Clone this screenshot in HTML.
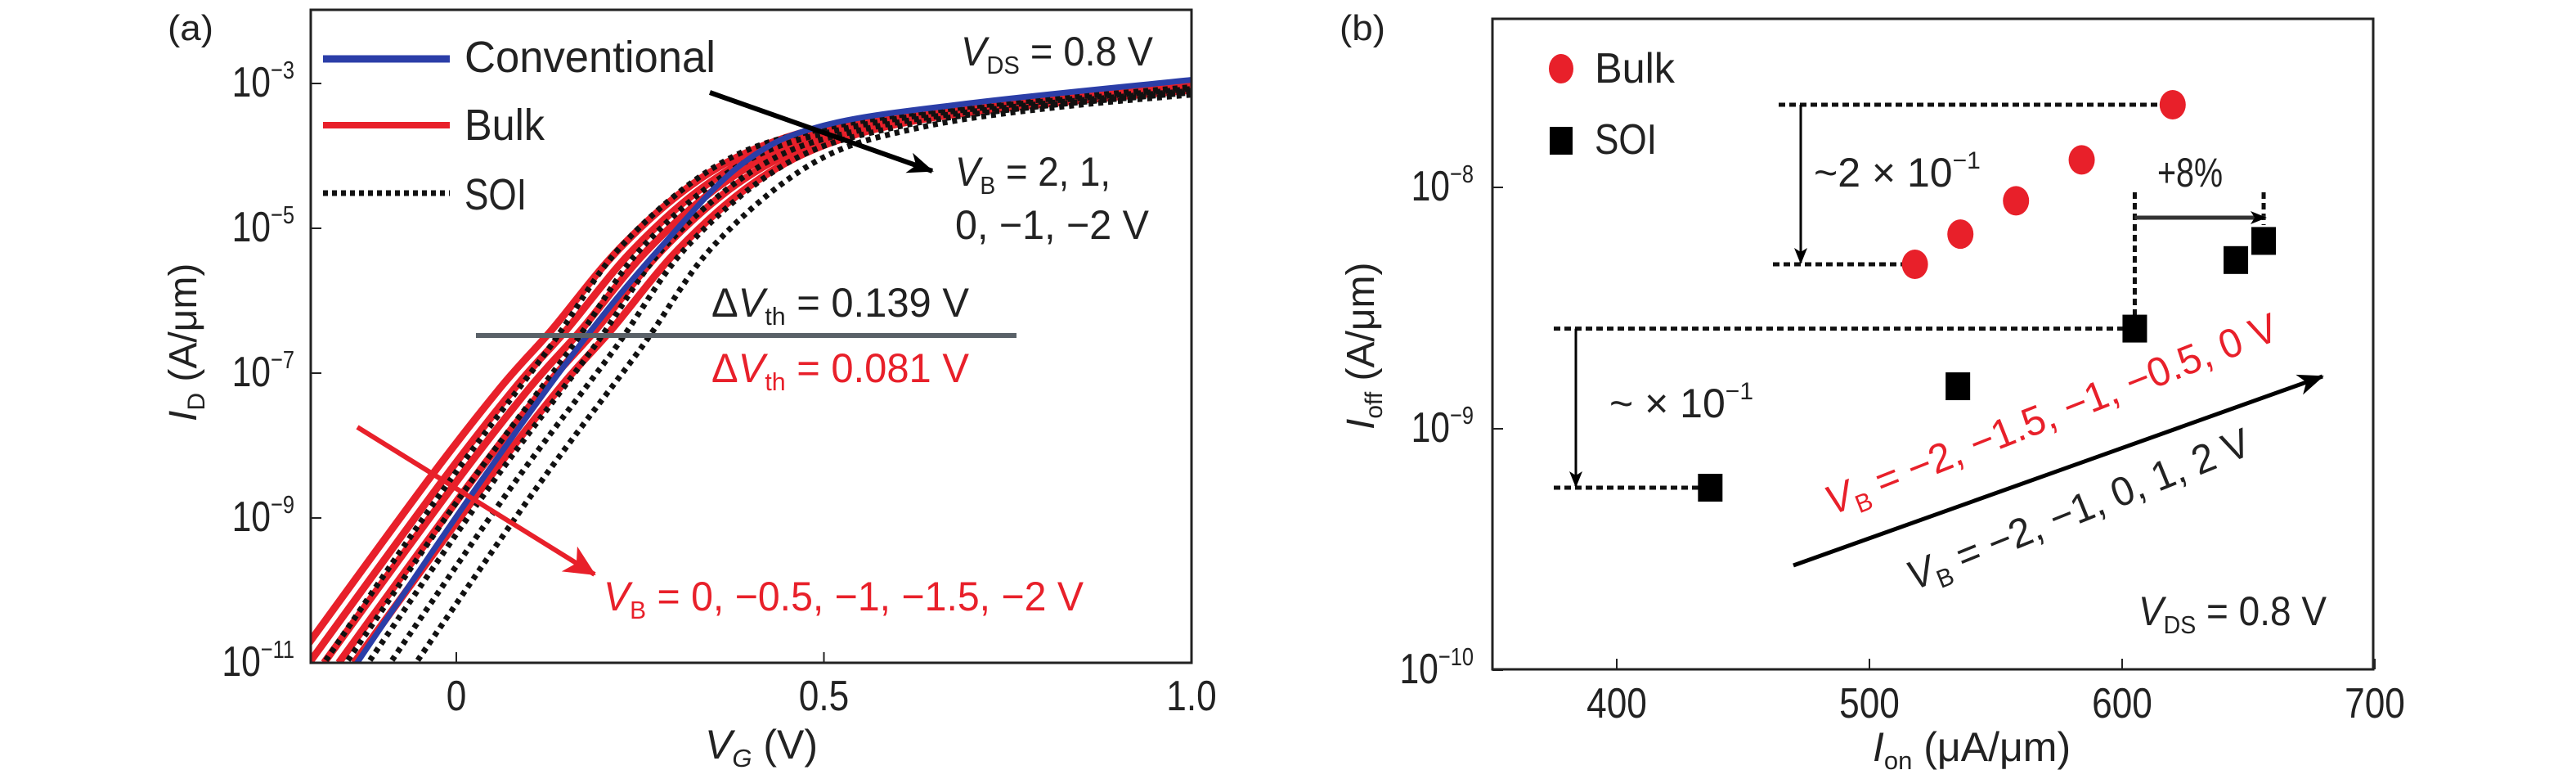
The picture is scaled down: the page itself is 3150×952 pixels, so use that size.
<!DOCTYPE html>
<html><head><meta charset="utf-8"><style>
html,body{margin:0;padding:0;background:#fff;}
svg{display:block;}
text{font-family:"Liberation Sans",sans-serif;}
</style></head><body>
<svg id="fig" width="3150" height="952" viewBox="0 0 3150 952" xmlns="http://www.w3.org/2000/svg">
<defs>
<marker id="ahBig" markerWidth="34" markerHeight="30" refX="30" refY="15" orient="auto" markerUnits="userSpaceOnUse"><path d="M0,2 L32,15 L0,28 L9,15 Z" fill="#000"/></marker>
<marker id="ahR" markerWidth="40" markerHeight="36" refX="36" refY="18" orient="auto" markerUnits="userSpaceOnUse"><path d="M0,0 L38,18 L0,36 L10,18 Z" fill="#e8202a"/></marker>
<marker id="ahS" markerWidth="20" markerHeight="20" refX="18" refY="10" orient="auto" markerUnits="userSpaceOnUse"><path d="M0,2 L20,10 L0,18 L5,10 Z" fill="#000"/></marker>
</defs>
<g id="pa"></g>
<g id="pb"></g>
</svg>
<script>
// ---------- Panel (a) data ----------
const aBlueVG = [-0.155, 0.024, 0.172, 0.28, 0.39, 0.5, 0.7, 1.0];
const aBlueLogI = [-11.3, -8.63, -6.56, -5.24, -4.1, -3.58, -3.27, -2.95];
const aBulkVG = [-0.22, -0.04, 0.06, 0.13, 0.22, 0.32, 0.42, 0.55, 0.75, 1.0];
const aBulkLogI = [-11.0, -8.5, -7.2, -6.4, -5.3, -4.4, -3.85, -3.5, -3.25, -3.02];
const aBulkShift = [0, 0.02, 0.04, 0.06, 0.081];
const aSoiVG = [-0.2, -0.017, 0.125, 0.225, 0.36, 0.5, 0.7, 1.0];
const aSoiLogI = [-11.3, -8.6, -6.67, -5.24, -4.1, -3.62, -3.32, -3.05];
const aSoiShift = [0, 0.03, 0.06, 0.09, 0.125];
const aXTicks = [0, 0.5, 1.0];
const aXTickLabels = ["0", "0.5", "1.0"];
const aYTicks = [-3, -5, -7, -9, -11];
const aYTickLabels = ["\u22123", "\u22125", "\u22127", "\u22129", "\u221211"];
// ---------- Panel (b) data ----------
const bBulkIon = [518, 536, 558, 584, 620];
const bBulkIoff = [4.8e-9, 6.4e-9, 8.8e-9, 1.3e-8, 2.2e-8];
const bSoiIon = [437, 535, 605, 645, 656];
const bSoiIoff = [5.7e-10, 1.5e-9, 2.6e-9, 5.0e-9, 6.0e-9];
const bXTicks = [400, 500, 600, 700];
const bXTickLabels = ["400", "500", "600", "700"];
const bYTicks = [-8, -9, -10];
const bYTickLabels = ["\u22128", "\u22129", "\u221210"];

const NS = "http://www.w3.org/2000/svg";
function mk(parent, tag, attrs, txt) {
  const e = document.createElementNS(NS, tag);
  for (const k in attrs) e.setAttribute(k, attrs[k]);
  if (txt !== undefined) e.textContent = txt;
  parent.appendChild(e);
  return e;
}
const ax = v => 558 + (v) * 899;
const ay = l => 810 - (l + 11) * 88.5;
const bx = v => 1977 + (v - 400) * 3.09;
const by = v => 229 + (-8 - Math.log10(v)) * 295;
const byl = l => 229 + (-8 - l) * 295;

const pa = document.getElementById("pa");
const pb = document.getElementById("pb");

const clipA = mk(document.querySelector("defs"), "clipPath", {id: "clipA"});
mk(clipA, "rect", {x: 381, y: 13, width: 1075, height: 796});

function pathFrom(xs, ys, shift) {
  const P = xs.map((x, i) => [ax(x + shift), ay(ys[i])]);
  let d = "M" + P[0][0].toFixed(1) + "," + P[0][1].toFixed(1);
  for (let i = 0; i < P.length - 1; i++) {
    const p0 = P[Math.max(0, i - 1)], p1 = P[i], p2 = P[i + 1], p3 = P[Math.min(P.length - 1, i + 2)];
    const c1 = [p1[0] + (p2[0] - p0[0]) / 6, p1[1] + (p2[1] - p0[1]) / 6];
    const c2 = [p2[0] - (p3[0] - p1[0]) / 6, p2[1] - (p3[1] - p1[1]) / 6];
    d += " C" + c1[0].toFixed(1) + "," + c1[1].toFixed(1) + " " + c2[0].toFixed(1) + "," + c2[1].toFixed(1) + " " + p2[0].toFixed(1) + "," + p2[1].toFixed(1);
  }
  return d;
}
const curves = mk(pa, "g", {"clip-path": "url(#clipA)"});


aBulkShift.forEach((s, i) => {
  const p = mk(curves, "path", {d: pathFrom(aBulkVG, aBulkLogI, s), fill: "none", stroke: "#e8202a", "stroke-width": 9, "stroke-linejoin": "round"});
  
  
});
aSoiShift.forEach((s, i) => {
  const p = mk(curves, "path", {d: pathFrom(aSoiVG, aSoiLogI, s), fill: "none", stroke: "#111", "stroke-width": 7, "stroke-dasharray": "6 6"});
  
  
});
const bl = mk(curves, "path", {d: pathFrom(aBlueVG, aBlueLogI, 0), fill: "none", stroke: "#2b3ea8", "stroke-width": 7});



const fa = mk(pa, "rect", {x: 380, y: 12, width: 1077, height: 798, fill: "none", stroke: "#222", "stroke-width": 3});


aXTicks.forEach((v, i) => {
  mk(pa, "line", {x1: ax(v), x2: ax(v), y1: 810, y2: 797, stroke: "#222", "stroke-width": 2});
  const t = mk(pa, "text", {x: ax(v), y: 868, "font-size": 52, "text-anchor": "middle", fill: "#222", transform: "translate(" + ax(v) + ",0) scale(0.85,1) translate(" + (-ax(v)) + ",0)"}, aXTickLabels[i]);
  
  
});
aYTicks.forEach((v, i) => {
  mk(pa, "line", {x1: 380, x2: 393, y1: ay(v), y2: ay(v), stroke: "#222", "stroke-width": 2});
  const t = mk(pa, "text", {x: 360, y: ay(v) + 16, "font-size": 52, fill: "#222", "text-anchor": "end", transform: "translate(360,0) scale(0.82,1) translate(-360,0)"});
  
  
  mk(t, "tspan", {}, "10");
  mk(t, "tspan", {dy: -22, "font-size": 31}, aYTickLabels[i]);
});
mk(pa, "line", {x1: 582, x2: 1243, y1: 410, y2: 410, stroke: "#5a6168", "stroke-width": 6});
mk(pa, "line", {x1: 395, x2: 550, y1: 72, y2: 72, stroke: "#2b3ea8", "stroke-width": 9});
mk(pa, "line", {x1: 395, x2: 550, y1: 153, y2: 153, stroke: "#e8202a", "stroke-width": 8});
mk(pa, "line", {x1: 395, x2: 550, y1: 236, y2: 236, stroke: "#111", "stroke-width": 7, "stroke-dasharray": "6 5"});
function txt(g, x, y, s, size, len, fill, name, anchor) {
  const t = mk(g, "text", {x: x, y: y, "font-size": size, fill: fill || "#222"}, s);
  if (len) { t.setAttribute("textLength", len); t.setAttribute("lengthAdjust", "spacingAndGlyphs"); }
  if (anchor) t.setAttribute("text-anchor", anchor);
  
  
  return t;
}
txt(pa, 568, 88, "Conventional", 54, 307, "#222", "legend-conventional");
txt(pa, 568, 171, "Bulk", 54, 98, "#222", "legend-bulk");
txt(pa, 568, 256, "SOI", 54, 76, "#222", "legend-soi");
txt(pa, 205, 49, "(a)", 44, 56, "#222", "panel-label-a");
function vsub(g, x, y, sub, rest, size, fill, name, len) {
  const t = mk(g, "text", {x: x, y: y, "font-size": size, fill: fill});
  if (len) { t.setAttribute("textLength", len); t.setAttribute("lengthAdjust", "spacingAndGlyphs"); }
  
  
  mk(t, "tspan", {"font-style": "italic"}, "V");
  mk(t, "tspan", {dy: 10, "font-size": size * 0.62}, sub);
  mk(t, "tspan", {dy: -10}, rest);
  return t;
}
vsub(pa, 1175, 80, "DS", " = 0.8 V", 50, "#222", "vds-annotation-a", 235);
vsub(pa, 1168, 227, "B", " = 2, 1,", 50, "#222", "vb-annotation-soi-1", 190);
txt(pa, 1168, 292, "0, \u22121, \u22122 V", 50, 237, "#222", "vb-annotation-soi-2");
const d1 = mk(pa, "text", {x: 870, y: 387, "font-size": 50, fill: "#222", textLength: 315, lengthAdjust: "spacingAndGlyphs"});
 
mk(d1, "tspan", {}, "\u0394"); mk(d1, "tspan", {"font-style": "italic"}, "V"); mk(d1, "tspan", {dy: 10, "font-size": 31}, "th"); mk(d1, "tspan", {dy: -10}, " = 0.139 V");
const d2 = mk(pa, "text", {x: 870, y: 467, "font-size": 50, fill: "#e8202a", textLength: 315, lengthAdjust: "spacingAndGlyphs"});
 
mk(d2, "tspan", {}, "\u0394"); mk(d2, "tspan", {"font-style": "italic"}, "V"); mk(d2, "tspan", {dy: 10, "font-size": 31}, "th"); mk(d2, "tspan", {dy: -10}, " = 0.081 V");
vsub(pa, 738, 746, "B", " = 0, \u22120.5, \u22121, \u22121.5, \u22122 V", 50, "#e8202a", "vb-annotation-bulk", 587);
mk(pa, "line", {x1: 868, y1: 113, x2: 1140, y2: 209, stroke: "#000", "stroke-width": 6, "marker-end": "url(#ahBig)"});
mk(pa, "line", {x1: 437, y1: 522, x2: 727, y2: 702, stroke: "#e8202a", "stroke-width": 6, "marker-end": "url(#ahR)"});
const xt = mk(pa, "text", {x: 862, y: 927, "font-size": 50, fill: "#222"});
 
mk(xt, "tspan", {"font-style": "italic"}, "V"); mk(xt, "tspan", {dy: 10, "font-size": 31, "font-style": "italic"}, "G"); mk(xt, "tspan", {dy: -10}, " (V)");
const yt = mk(pa, "text", {x: 0, y: 0, "font-size": 48, fill: "#222", transform: "translate(240,515) rotate(-90)"});
 
mk(yt, "tspan", {"font-style": "italic"}, "I"); mk(yt, "tspan", {dy: 10, "font-size": 30}, "D"); mk(yt, "tspan", {dy: -10}, " (A/\u03bcm)");

// ===== Panel b =====
const fb = mk(pb, "rect", {x: 1825, y: 23, width: 1077, height: 795, fill: "none", stroke: "#222", "stroke-width": 3});
 
bXTicks.forEach((v, i) => {
  mk(pb, "line", {x1: bx(v), x2: bx(v), y1: 818, y2: 805, stroke: "#222", "stroke-width": 2});
  const t = mk(pb, "text", {x: bx(v), y: 877, "font-size": 52, "text-anchor": "middle", fill: "#222", transform: "translate(" + bx(v) + ",0) scale(0.85,1) translate(" + (-bx(v)) + ",0)"}, bXTickLabels[i]);
  
  
});
bYTicks.forEach((v, i) => {
  mk(pb, "line", {x1: 1825, x2: 1838, y1: byl(v), y2: byl(v), stroke: "#222", "stroke-width": 2});
  const t = mk(pb, "text", {x: 1802, y: byl(v) + 16, "font-size": 52, fill: "#222", "text-anchor": "end", transform: "translate(1802,0) scale(0.82,1) translate(-1802,0)"});
   
  mk(t, "tspan", {}, "10");
  mk(t, "tspan", {dy: -22, "font-size": 31}, bYTickLabels[i]);
});
txt(pb, 1638, 49, "(b)", 44, 56, "#222", "panel-label-b");
mk(pb, "ellipse", {cx: 1909, cy: 84, rx: 15, ry: 18, fill: "#e8202a"});
txt(pb, 1950, 101, "Bulk", 52, 98, "#222", "legend-bulk-b");
mk(pb, "rect", {x: 1895, y: 155, width: 28, height: 34, fill: "#000"});
txt(pb, 1950, 188, "SOI", 52, 76, "#222", "legend-soi-b");
const dash = {stroke: "#111", "stroke-width": 5, "stroke-dasharray": "8 5"};
function dl(x1, y1, x2, y2) { mk(pb, "line", Object.assign({x1, y1, x2, y2}, dash)); }
dl(2175, by(bBulkIoff[4]), bx(bBulkIon[4]), by(bBulkIoff[4]));
dl(2168, by(bBulkIoff[0]), bx(bBulkIon[0]), by(bBulkIoff[0]));
dl(1900, by(bSoiIoff[2]), bx(bSoiIon[2]), by(bSoiIoff[2]));
dl(1900, by(bSoiIoff[0]), bx(bSoiIon[0]), by(bSoiIoff[0]));
dl(bx(bSoiIon[2]), 235, bx(bSoiIon[2]), by(bSoiIoff[2]));
dl(bx(bSoiIon[4]), 235, bx(bSoiIon[4]), 275);
mk(pb, "line", {x1: 2202, y1: by(bBulkIoff[4]), x2: 2202, y2: by(bBulkIoff[0]) - 2, stroke: "#000", "stroke-width": 3, "marker-end": "url(#ahS)"});
mk(pb, "line", {x1: 1927, y1: by(bSoiIoff[2]), x2: 1927, y2: by(bSoiIoff[0]) - 2, stroke: "#000", "stroke-width": 3, "marker-end": "url(#ahS)"});
mk(pb, "line", {x1: bx(bSoiIon[2]), y1: 266, x2: bx(bSoiIon[4]) + 2, y2: 266, stroke: "#333", "stroke-width": 5, "marker-end": "url(#ahS)"});
bBulkIon.forEach((v, i) => {
  const c = mk(pb, "ellipse", {cx: bx(v), cy: by(bBulkIoff[i]), rx: 16, ry: 18, fill: "#e8202a"});
   
});
bSoiIon.forEach((v, i) => {
  const r = mk(pb, "rect", {x: bx(v) - 15, y: by(bSoiIoff[i]) - 17, width: 30, height: 34, fill: "#000"});
   
});
const a1 = mk(pb, "text", {x: 2218, y: 228, "font-size": 50, fill: "#222"});
 
mk(a1, "tspan", {}, "~2 \u00d7 10"); mk(a1, "tspan", {dy: -22, "font-size": 30}, "\u22121");
const a2 = mk(pb, "text", {x: 1968, y: 510, "font-size": 50, fill: "#222"});
 
mk(a2, "tspan", {}, "~ \u00d7 10"); mk(a2, "tspan", {dy: -22, "font-size": 30}, "\u22121");
txt(pb, 2638, 228, "+8%", 50, 80, "#222", "ion-gain");
mk(pb, "line", {x1: 2193, y1: 691, x2: 2840, y2: 460, stroke: "#000", "stroke-width": 5, "marker-end": "url(#ahBig)"});
const r1 = vsub(pb, 0, 0, "B", " = \u22122, \u22121.5, \u22121, \u22120.5, 0 V", 50, "#e8202a", "vb-sweep-bulk", 590);
r1.setAttribute("transform", "translate(2240,630) rotate(-21.5)");
const r2 = vsub(pb, 0, 0, "B", " = \u22122, \u22121, 0, 1, 2 V", 50, "#222", "vb-sweep-soi", 448);
r2.setAttribute("transform", "translate(2340,722) rotate(-22)");
vsub(pb, 2615, 764, "DS", " = 0.8 V", 50, "#222", "vds-annotation-b", 230);
const xb = mk(pb, "text", {x: 2290, y: 930, "font-size": 50, fill: "#222"});
 
mk(xb, "tspan", {"font-style": "italic"}, "I"); mk(xb, "tspan", {dy: 10, "font-size": 31}, "on"); mk(xb, "tspan", {dy: -10}, " (\u03bcA/\u03bcm)");
const ybt = mk(pb, "text", {x: 0, y: 0, "font-size": 48, fill: "#222", transform: "translate(1680,525) rotate(-90)"});
 
mk(ybt, "tspan", {"font-style": "italic"}, "I"); mk(ybt, "tspan", {dy: 10, "font-size": 30}, "off"); mk(ybt, "tspan", {dy: -10}, " (A/\u03bcm)");
</script>
</body></html>
